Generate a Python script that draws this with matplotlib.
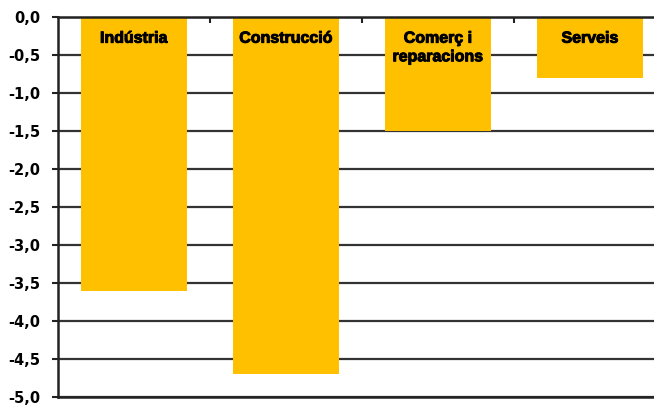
import matplotlib
matplotlib.use("Agg")
import matplotlib.pyplot as plt
import matplotlib.patheffects as pe
import numpy as np

categories = ["Indústria", "Construcció", "Comerç i\nreparacions", "Serveis"]
values = [-3.6, -4.7, -1.5, -0.8]
yticks = [0.0, -0.5, -1.0, -1.5, -2.0, -2.5, -3.0, -3.5, -4.0, -4.5, -5.0]
ytick_labels = ["0,0", "-0,5", "-1,0", "-1,5", "-2,0", "-2,5", "-3,0", "-3,5", "-4,0", "-4,5", "-5,0"]

W, H = 654, 405
fig = plt.figure(figsize=(W / 100, H / 100), dpi=100)
ax = fig.add_axes([58 / W, 8 / H, 608 / W, 380 / H])

x = np.arange(len(categories))
ax.set_axisbelow(True)
ax.yaxis.grid(True, color="#333333", linewidth=1.6)
ax.bar(x, values, width=0.70, color="#FFC000", zorder=2)

ax.set_xlim(-0.5, len(categories) - 0.5)
ax.set_ylim(-5.0, 0.0)
ax.set_yticks(yticks)
ax.set_yticklabels(ytick_labels, fontfamily="DejaVu Sans", fontweight="bold", fontsize=10.5)
ax.tick_params(axis="y", length=4, width=1.5, pad=9, color="#222222")

ax.xaxis.tick_top()
ax.set_xticks(np.arange(len(categories) - 1) + 0.5)
ax.set_xticklabels([])
ax.tick_params(axis="x", direction="in", length=4, width=1.5, color="#222222")

ax.spines["right"].set_visible(False)
for s in ["left", "top", "bottom"]:
    ax.spines[s].set_linewidth(1.8)
    ax.spines[s].set_color("#222222")
ax.spines["bottom"].set_zorder(3)

for xi, lab in zip(x, categories):
    ax.text(xi, -0.18, lab, ha="center", va="top", fontfamily="Liberation Sans",
            fontweight="bold", fontsize=11.5, linespacing=1.3, zorder=3,
            path_effects=[pe.withStroke(linewidth=0.7, foreground="black")])

fig.savefig("out.png", dpi=100)
